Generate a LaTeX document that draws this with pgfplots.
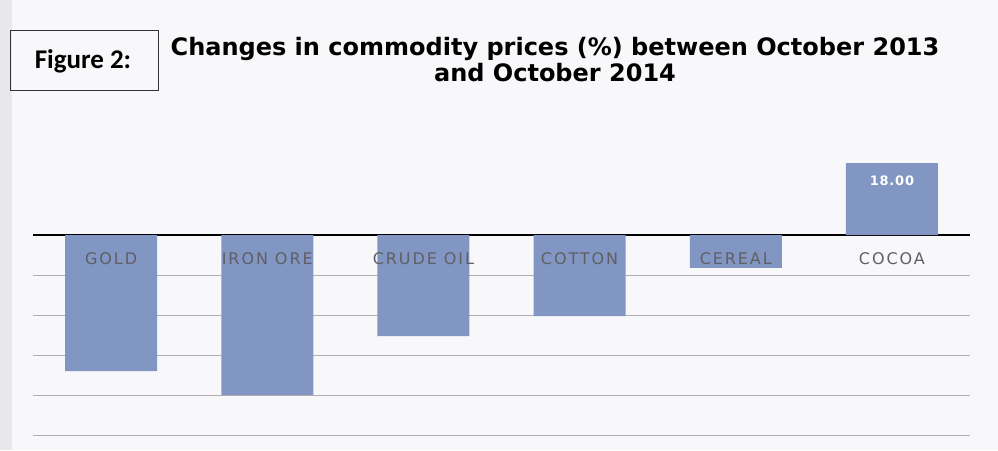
\documentclass[border=0pt]{standalone}
\usepackage{pgfplots}
\pgfplotsset{compat=1.18}
\usepackage{fontspec}
\setmainfont{Carlito}
\newfontfamily\titlefont{DejaVu Sans}
\newfontfamily\labfont[LetterSpace=12]{DejaVu Sans}
\newfontfamily\numfont[LetterSpace=6]{DejaVu Sans}
\definecolor{barc}{RGB}{130,150,195}
\definecolor{bgc}{RGB}{248,248,250}
\definecolor{edgec}{RGB}{232,232,235}
\definecolor{gridc}{RGB}{175,175,180}
\definecolor{labc}{RGB}{95,95,100}
\begin{document}
\begin{tikzpicture}[x=1pt,y=1pt]
\fill[bgc] (0,0) rectangle (998,450);
\fill[edgec] (0,0) rectangle (12,450);
\begin{axis}[
  at={(33pt,15pt)}, anchor=south west,
  scale only axis, width=937pt, height=280pt,
  xmin=-0.5, xmax=5.5, ymin=-50, ymax=20,
  axis x line*=middle, axis y line*=left,
  x axis line style={black, line width=1.6pt, -},
  y axis line style={draw=none},
  xtick={0,1,2,3,4,5},
  xticklabels={},
  ytick={-50,-40,-30,-20,-10},
  yticklabels={},
  major tick length=0pt,
  ymajorgrids, grid style={gridc, line width=0.9pt},
  bar width=92pt,
  clip=false,
]
\addplot[ybar, bar shift=0pt, fill=barc, draw=none] coordinates {(0,-34) (1,-40) (2,-25.3) (3,-20.3) (4,-8.2) (5,18)};
\addplot[draw=none, mark=none,
  nodes near coords, point meta=explicit symbolic,
  every node near coord/.style={anchor=north, inner sep=0pt, text=white, font=\numfont\bfseries\fontsize{13}{15}\selectfont, yshift=-13pt}]
  coordinates {(5,18) [18.00]};
\addplot[draw=none, mark=none,
  nodes near coords, point meta=explicit symbolic,
  every node near coord/.style={anchor=north, inner sep=0pt, text=labc, font=\labfont\fontsize{16}{18}\selectfont, yshift=-17pt}]
  coordinates {(0,0) [GOLD] (1,0) [IRON ORE] (2,0) [CRUDE OIL] (3,0) [COTTON] (4,0) [CEREAL] (5,0) [COCOA]};
\end{axis}
\draw[black!80, line width=0.8pt] (10,360) rectangle (158,420);
\node[font=\bfseries\fontsize{27}{30}\selectfont] at (83,389) {Figure 2:};
\node[align=center, font=\titlefont\bfseries\fontsize{24}{26}\selectfont] at (555,390) {Changes in commodity prices (\%) between October 2013\\and October 2014};
\end{tikzpicture}
\end{document}
